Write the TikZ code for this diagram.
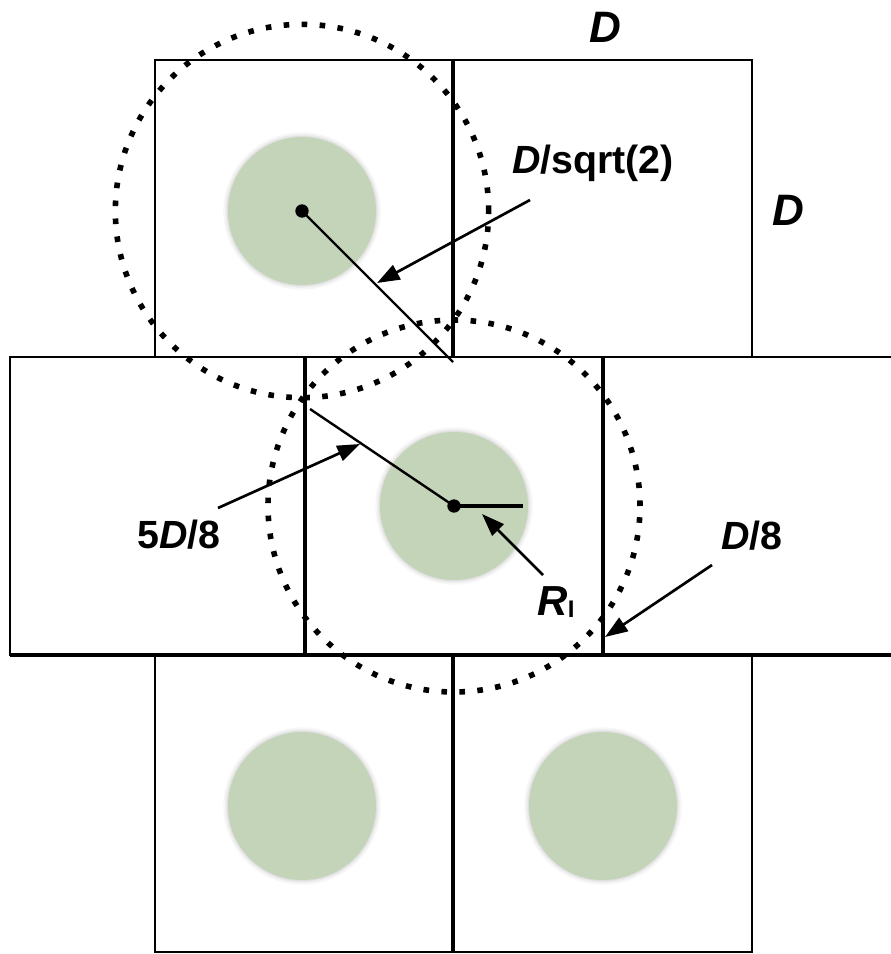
\documentclass[tikz,border=0pt]{standalone}
\usepackage{fontspec}
\setmainfont{Liberation Sans}
\usetikzlibrary{arrows.meta}
\definecolor{blob}{RGB}{196,212,185}
\begin{document}
\begin{tikzpicture}[x=0.75pt,y=-0.75pt,
  boxline/.style={line width=1.8pt},
  thickline/.style={line width=3.6pt},
  radline/.style={line width=1.8pt},
  dotring/.style={line width=4.2pt, dash pattern=on 4.2pt off 9.3pt, line cap=butt},
  arr/.style={line width=2pt, -{Triangle[length=17pt,width=12pt]}},
  lbl/.style={inner sep=0pt, anchor=base, font=\fontsize{29.5}{32}\selectfont\bfseries},
  big/.style={inner sep=0pt, anchor=base, font=\fontsize{33}{36}\selectfont\bfseries\itshape},
  blobstyle/.style={fill=blob}
]
\useasboundingbox[fill=white] (0,0) rectangle (890,954);

% centres
\coordinate (c1) at (302,211);
\coordinate (c2) at (454,506);
\coordinate (c3) at (302,806);
\coordinate (c4) at (603,806);

% green discs with soft halo
\foreach \c in {c1,c2,c3,c4}{
  \fill[black,opacity=0.035] (\c) circle[radius=59pt];
  \fill[black,opacity=0.045] (\c) circle[radius=57.5pt];
  \fill[black,opacity=0.05] (\c) circle[radius=56.3pt];
  \fill[blobstyle] (\c) circle[radius=55.5pt];
}

% squares
\draw[boxline] (155,60) rectangle (453,357);
\draw[boxline] (453,60) rectangle (752,357);
\draw[boxline] (10,357) rectangle (305,655);
\draw[boxline] (305,357) rectangle (603,655);
\draw[boxline] (603,357) -- (900,357) (603,655) -- (900,655);
\draw[boxline] (155,655) rectangle (453,952);
\draw[boxline] (453,655) rectangle (752,952);
\draw[line width=2.6pt] (10,655) -- (900,655);
\draw[thickline] (453,60) -- (453,357);
\draw[thickline] (305,357) -- (305,655) -- (603,655) -- (603,357);
\draw[thickline] (453,655) -- (453,952);

% dotted circles
\draw[dotring] (c1) circle[radius=140pt];
\draw[dotring] (c2) circle[radius=139.5pt];

% radii
\coordinate (k1) at (453,362);
\coordinate (k2) at (310,409);
\coordinate (k3) at (523,506);
\draw[radline] (c1) -- (k1);
\draw[radline] (c2) -- (k2);
\draw[thickline] (c2) -- (k3);
\fill (c1) circle[radius=5pt];
\fill (c2) circle[radius=5pt];

% labels
\node[big] (Dtop) at (605,42) {D};
\node[big] (Dright) at (788,225) {D};
\node[lbl] (Lsq) at (593,173) {\textit{D}/sqrt(2)};
\node[lbl] (L58) at (179,548) {5\textit{D}/8};
\node[lbl] (L8) at (752,549) {\textit{D}/8};
\node[inner sep=0pt, anchor=base] (RI) at (556,615)
  {{\fontsize{31.5}{34}\selectfont\bfseries\itshape R}{\fontsize{18}{19}\selectfont\bfseries\raisebox{-1.5pt}{I}}};

% arrows
\coordinate (t1) at (530,200); \coordinate (h1) at (377,283);
\coordinate (t2) at (218,508); \coordinate (h2) at (360,444);
\coordinate (t3) at (543,575); \coordinate (h3) at (482,514);
\coordinate (t4) at (712,565); \coordinate (h4) at (605,637);
\draw[arr] (t1) -- (h1);
\draw[arr] (t2) -- (h2);
\draw[arr] (t3) -- (h3);
\draw[arr] (t4) -- (h4);
\end{tikzpicture}
\end{document}
